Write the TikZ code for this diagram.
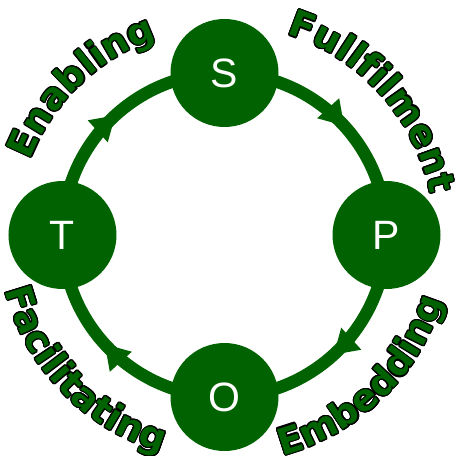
\documentclass[tikz,border=0pt]{standalone}
\usepackage{fontspec}
\setmainfont{Liberation Sans}
\newfontfamily\arcfont{DejaVu Sans}
\usepackage{contour}
\contourlength{1.1pt}
\usetikzlibrary{arrows.meta,decorations.markings,decorations.text,backgrounds}

\definecolor{cyclegreen}{RGB}{0,98,0}
\newcommand{\outlined}[1]{\contour{black}{#1}}

\tikzset{
  stage/.style={circle, fill=cyclegreen, minimum size=108pt, inner sep=0pt,
    text=white, font=\fontsize{41}{41}\selectfont},
  ring/.style={draw=cyclegreen, color=cyclegreen, line width=12.5pt, postaction={decorate},
    decoration={markings, mark=at position 0.53 with {\arrow{Triangle[length=24pt,width=28pt]}}}},
  arclabel/.style={decorate, decoration={text effects along path, text={#1}, text align=center,
    text effects/.cd, text along path, character command=\outlined,
    characters={text=cyclegreen, font=\arcfont\bfseries\fontsize{37}{37}\selectfont}}}
}

\begin{document}
\begin{tikzpicture}[x=1pt,y=1pt]
\useasboundingbox (-224.5,-220) rectangle (232.5,235);

% The four stages round the cycle
\node[stage] (S) at (90:162) {S};
\node[stage] (P) at (0:162) {P};
\node[stage] (O) at (-90:162) {O};
\node[stage] (T) at (180:162) {T};

% Arcs from stage to stage, behind the circles
\begin{scope}[on background layer]
\draw[ring] (T.center) arc[start angle=180, end angle=90, radius=162];
\draw[ring] (S.center) arc[start angle=90, end angle=0, radius=162];
\draw[ring] (P.center) arc[start angle=0, end angle=-90, radius=162];
\draw[ring] (O.center) arc[start angle=270, end angle=180, radius=162];
\end{scope}

% Curved labels outside the ring
\path[arclabel=Enabling] (179:208) arc[start angle=179, end angle=89, radius=208];
\path[arclabel=Fullfilment] (87:210) arc[start angle=87, end angle=-3, radius=210];
\path[arclabel=Embedding] (-91:228) arc[start angle=-91, end angle=-1, radius=228];
\path[arclabel=Facilitating] (-181:226) arc[start angle=-181, end angle=-91, radius=226];

\end{tikzpicture}
\end{document}
